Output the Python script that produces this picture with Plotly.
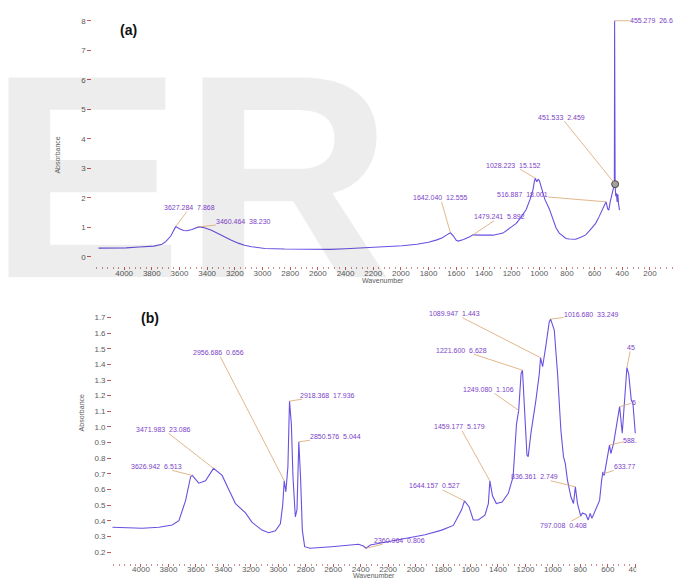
import plotly.graph_objects as go

# ---- spectrum (a) ----
wn_a = [4185, 4100, 3986, 3892, 3785, 3727, 3699, 3663, 3640, 3627.284, 3600, 3570, 3546, 3510,
        3460.464, 3420, 3369, 3318, 3270, 3225, 3175, 3130, 3080, 2983, 2840, 2700, 2508, 2400,
        2250, 2099, 1990, 1884, 1800, 1740, 1700, 1668, 1642.04, 1620, 1600, 1585, 1547, 1502,
        1479.241, 1420, 1333, 1262, 1210, 1166, 1130, 1094, 1066, 1046, 1035, 1028.223, 1018,
        1008, 999, 985, 960, 927, 900, 879, 855, 831, 807, 784, 736, 700, 664, 630, 592, 568,
        544, 516.887, 505, 497, 487, 478, 465, 457, 455.279, 454, 453.2, 452.3, 451.533, 447,
        442, 437, 432, 427, 420]
ab_a = [0.29, 0.29, 0.30, 0.33, 0.36, 0.42, 0.51, 0.70, 0.92, 1.02, 0.95, 0.89, 0.88, 0.92,
        1.01, 0.98, 0.90, 0.78, 0.65, 0.56, 0.46, 0.39, 0.34, 0.28, 0.26, 0.25, 0.25, 0.27,
        0.30, 0.33, 0.37, 0.42, 0.49, 0.57, 0.64, 0.74, 0.81, 0.70, 0.56, 0.53, 0.58, 0.68,
        0.74, 0.73, 0.73, 0.80, 0.98, 1.13, 1.35, 1.60, 1.95, 2.25, 2.55, 2.66, 2.54,
        2.62, 2.58, 2.35, 1.95, 1.62, 1.25, 0.98, 0.80, 0.70, 0.62, 0.60, 0.59, 0.66, 0.74,
        0.92, 1.13, 1.35, 1.58, 1.86, 1.62, 1.58, 1.86, 2.03, 2.30, 2.46, 8.00, 5.30, 5.00,
        2.90, 2.459, 2.05, 2.15, 1.86, 2.12, 1.80, 1.58]

marked_wn_a = [451.533]
marked_ab_a = [2.459]

peaks_a = [3627.284, 3460.464, 1642.04, 1479.241, 1028.223, 516.887, 451.533, 455.279]
peak_text_a = ["3627.284  7.868", "3460.464  38.230", "1642.040  12.555", "1479.241  5.892",
               "1028.223  15.152", "516.887  18.001", "451.533  2.459", "455.279  26.6"]

# ---- spectrum (b) ----
wn_b = [4209, 4100, 3990, 3869, 3773, 3724, 3675, 3639, 3626.942, 3579, 3530, 3471.983, 3409,
        3361, 3312, 3239, 3191, 3119, 3070, 3021, 2985, 2968, 2956.686, 2945, 2930, 2918.368,
        2905, 2893, 2876, 2864, 2850.576, 2838, 2825, 2808, 2770, 2612, 2561, 2416, 2380,
        2360.964, 2330, 2198, 2076, 1931, 1810, 1725, 1665, 1644.157, 1611, 1580, 1544, 1495,
        1470, 1459.177, 1440, 1412, 1370, 1325, 1290, 1265, 1249.08, 1232, 1221.6, 1203, 1189,
        1180, 1160, 1124, 1099, 1089.947, 1075, 1051, 1027, 1016.68, 990, 966, 942, 923, 910,
        894, 869, 850, 836.361, 821, 805, 797.008, 785, 760, 743, 728, 716, 690, 660, 645, 636,
        633.77, 626, 612, 588, 578, 558, 514, 495, 461, 448, 429, 417, 400]
ab_b = [0.358, 0.355, 0.352, 0.358, 0.373, 0.40, 0.53, 0.68, 0.69, 0.64, 0.655, 0.735, 0.69,
        0.60, 0.51, 0.45, 0.39, 0.34, 0.323, 0.336, 0.38, 0.50, 0.656, 0.585, 0.745, 1.165,
        1.02, 0.68, 0.425, 0.47, 0.905, 0.68, 0.34, 0.234, 0.224, 0.234, 0.238, 0.25, 0.238,
        0.224, 0.245, 0.266, 0.287, 0.31, 0.34, 0.37, 0.47, 0.527, 0.49, 0.405, 0.405, 0.436,
        0.51, 0.655, 0.56, 0.51, 0.52, 0.575, 0.68, 1.02, 1.106, 1.34, 1.363, 1.065, 0.82,
        0.81, 0.96, 1.17, 1.34, 1.443, 1.385, 1.52, 1.67, 1.69, 1.62, 1.34, 0.98, 0.81, 0.767,
        0.66, 0.553, 0.51, 0.617, 0.51, 0.46, 0.43, 0.45, 0.44, 0.405, 0.447, 0.415, 0.468,
        0.53, 0.66, 0.713, 0.70, 0.69, 0.767, 0.884, 0.83, 0.895, 1.13, 0.96, 1.38, 1.34,
        1.17, 1.15, 0.96]

peaks_b = [3626.942, 3471.983, 2956.686, 2918.368, 2850.576, 2360.964, 1644.157, 1459.177,
           1249.08, 1221.6, 1089.947, 1016.68, 836.361, 797.008, 633.77, 588, 514, 461]
peak_text_b = ["3626.942  6.513", "3471.983  23.086", "2956.686  0.656", "2918.368  17.936",
               "2850.576  5.044", "2360.964  0.806", "1644.157  0.527", "1459.177  5.179",
               "1249.080  1.106", "1221.600  6.628", "1089.947  1.443", "1016.680  33.249",
               "836.361  2.749", "797.008  0.408", "633.77", "588.", "5", "45"]

x_ticks_a = [4000, 3800, 3600, 3400, 3200, 3000, 2800, 2600, 2400, 2200, 2000, 1800, 1600,
             1400, 1200, 1000, 800, 600, 400, 200]
x_ticks_b = [4000, 3800, 3600, 3400, 3200, 3000, 2800, 2600, 2400, 2200, 2000, 1800, 1600,
             1400, 1200, 1000, 800, 600, 400]
y_ticks_a = [0, 1, 2, 3, 4, 5, 6, 7, 8]
y_ticks_b = [0.2, 0.3, 0.4, 0.5, 0.6, 0.7, 0.8, 0.9, 1.0, 1.1, 1.2, 1.3, 1.4, 1.5, 1.6, 1.7]

# ---- styling ----
W, H = 679, 581
FONT = "Liberation Sans, Arial, sans-serif"
LINE = "#6a50e0"
LABEL = "#7b3fc8"
LEADER = "#d9a46e"
TICKC = "#c05858"
TXT = "#5a5a5a"
GHOST = "rgba(0,0,0,0.07)"

# text offsets (px) of the peak labels relative to their peaks
offs_a = [(14, -19), (45, -5), (-10, -35), (27, -18), (-22, -13), (-84, -7), (-54, -67), (37, 0)]
offs_b = [(-36, -9), (-50, -39), (-66, -128), (38, -6), (37, -5), (33, -8), (-30, -15),
          (-30, -54), (-30, -21), (-61, -20), (-86, -44), (41, -5), (-41, -10), (-17, 9),
          (22, -7), (21, -5), (14, -4), (4, -20)]

fig = go.Figure()
fig.add_trace(go.Scatter(x=wn_a, y=ab_a, mode="lines", line=dict(color=LINE, width=1.1),
                         xaxis="x", yaxis="y", hoverinfo="skip"))
fig.add_trace(go.Scatter(x=marked_wn_a, y=marked_ab_a, mode="markers",
                         marker=dict(size=7, color="#a0a0a0", line=dict(color="#4a4a4a", width=1)),
                         xaxis="x", yaxis="y", hoverinfo="skip"))
fig.add_trace(go.Scatter(x=wn_b, y=ab_b, mode="lines", line=dict(color=LINE, width=1.1),
                         xaxis="x2", yaxis="y2", hoverinfo="skip"))


def xaxis_style(dom, rng, ticks, anchor, standoff):
    return dict(domain=dom, range=rng, anchor=anchor, tickvals=ticks,
                ticktext=[str(t) for t in ticks], ticklabelstandoff=standoff,
                showgrid=False, zeroline=False, showline=False, ticks="outside", ticklen=3,
                tickwidth=1, tickcolor=TICKC, tickfont=dict(family=FONT, size=8, color=TXT),
                minor=dict(dtick=40, tick0=0, ticks="outside", ticklen=2, tickwidth=1,
                           tickcolor="#c89090", showgrid=False))


def yaxis_style(dom, rng, ticks, fmt, anchor):
    return dict(domain=dom, range=rng, anchor=anchor, tickvals=ticks, tickformat=fmt,
                showgrid=False, zeroline=False, showline=False, ticks="outside", ticklen=4,
                tickwidth=1, tickcolor=TICKC, tickfont=dict(family=FONT, size=8, color=TXT))


annotations = [
    # faint background lettering
    dict(text="<b>E</b>", xref="paper", yref="paper", x=-13 / W, y=1 - 12 / H,
         xanchor="left", yanchor="top", showarrow=False,
         font=dict(family=FONT, size=290, color=GHOST)),
    dict(text="<b>R</b>", xref="paper", yref="paper", x=182 / W, y=1 - 12 / H,
         xanchor="left", yanchor="top", showarrow=False,
         font=dict(family=FONT, size=290, color=GHOST)),
    dict(text="<b>(a)</b>", xref="paper", yref="paper", x=119 / W, y=1 - 20 / H,
         showarrow=False, font=dict(family=FONT, size=14, color="#111")),
    dict(text="<b>(b)</b>", xref="paper", yref="paper", x=140 / W, y=1 - 318 / H,
         showarrow=False, font=dict(family=FONT, size=14, color="#111")),
    dict(text="Absorbance", xref="paper", yref="paper", x=52 / W, y=1 - 135 / H,
         textangle=-90, showarrow=False, font=dict(family=FONT, size=7, color=TXT)),
    dict(text="Absorbance", xref="paper", yref="paper", x=77 / W, y=1 - 433 / H,
         textangle=-90, showarrow=False, font=dict(family=FONT, size=7, color=TXT)),
    dict(text="Wavenumber", xref="paper", yref="paper", x=386 / W, y=1 - 280 / H,
         showarrow=False, font=dict(family=FONT, size=7, color=TXT)),
    dict(text="Wavenumber", xref="paper", yref="paper", x=377 / W, y=0,
         yanchor="bottom", showarrow=False, font=dict(family=FONT, size=7, color=TXT)),
]

lookup_a = dict(zip(wn_a, ab_a))
lookup_b = dict(zip(wn_b, ab_b))
for w, t, (ax, ay) in zip(peaks_a, peak_text_a, offs_a):
    annotations.append(dict(x=w, y=lookup_a[w], xref="x", yref="y", text=t, ax=ax, ay=ay,
                            showarrow=True, arrowhead=0, arrowwidth=0.8, arrowcolor=LEADER,
                            standoff=0, borderpad=0,
                            font=dict(family=FONT, size=7, color=LABEL)))
for w, t, (ax, ay) in zip(peaks_b, peak_text_b, offs_b):
    annotations.append(dict(x=w, y=lookup_b[w], xref="x2", yref="y2", text=t, ax=ax, ay=ay,
                            showarrow=True, arrowhead=0, arrowwidth=0.8, arrowcolor=LEADER,
                            standoff=0, borderpad=0,
                            font=dict(family=FONT, size=7, color=LABEL)))

fig.update_layout(
    width=W, height=H, margin=dict(l=0, r=0, t=0, b=0),
    paper_bgcolor="white", plot_bgcolor="rgba(0,0,0,0)", showlegend=False,
    xaxis=xaxis_style([93 / W, 1.0], [4230, 26], x_ticks_a, "y", -4),
    yaxis=yaxis_style([1 - 266 / H, 1 - 10 / H], [-0.315, 8.363], y_ticks_a, "d", "x"),
    xaxis2=xaxis_style([113 / W, 642 / W], [4210, 385.5], x_ticks_b, "y2", -5),
    yaxis2=yaxis_style([1 - 563 / H, 1 - 305 / H], [0.1297, 1.78], y_ticks_b, ".1f", "x2"),
    annotations=annotations,
    shapes=[
        # the lower panel is cut off on its right-hand side
        dict(type="rect", xref="paper", yref="paper", x0=642 / W, x1=1.0,
             y0=0, y1=1 - 292 / H, fillcolor="white", line=dict(width=0), layer="above"),
        dict(type="rect", xref="paper", yref="paper", x0=641 / W, x1=1.0,
             y0=0, y1=1 - 564 / H, fillcolor="white", line=dict(width=0), layer="above"),
    ],
)

fig.write_html("out.html")
